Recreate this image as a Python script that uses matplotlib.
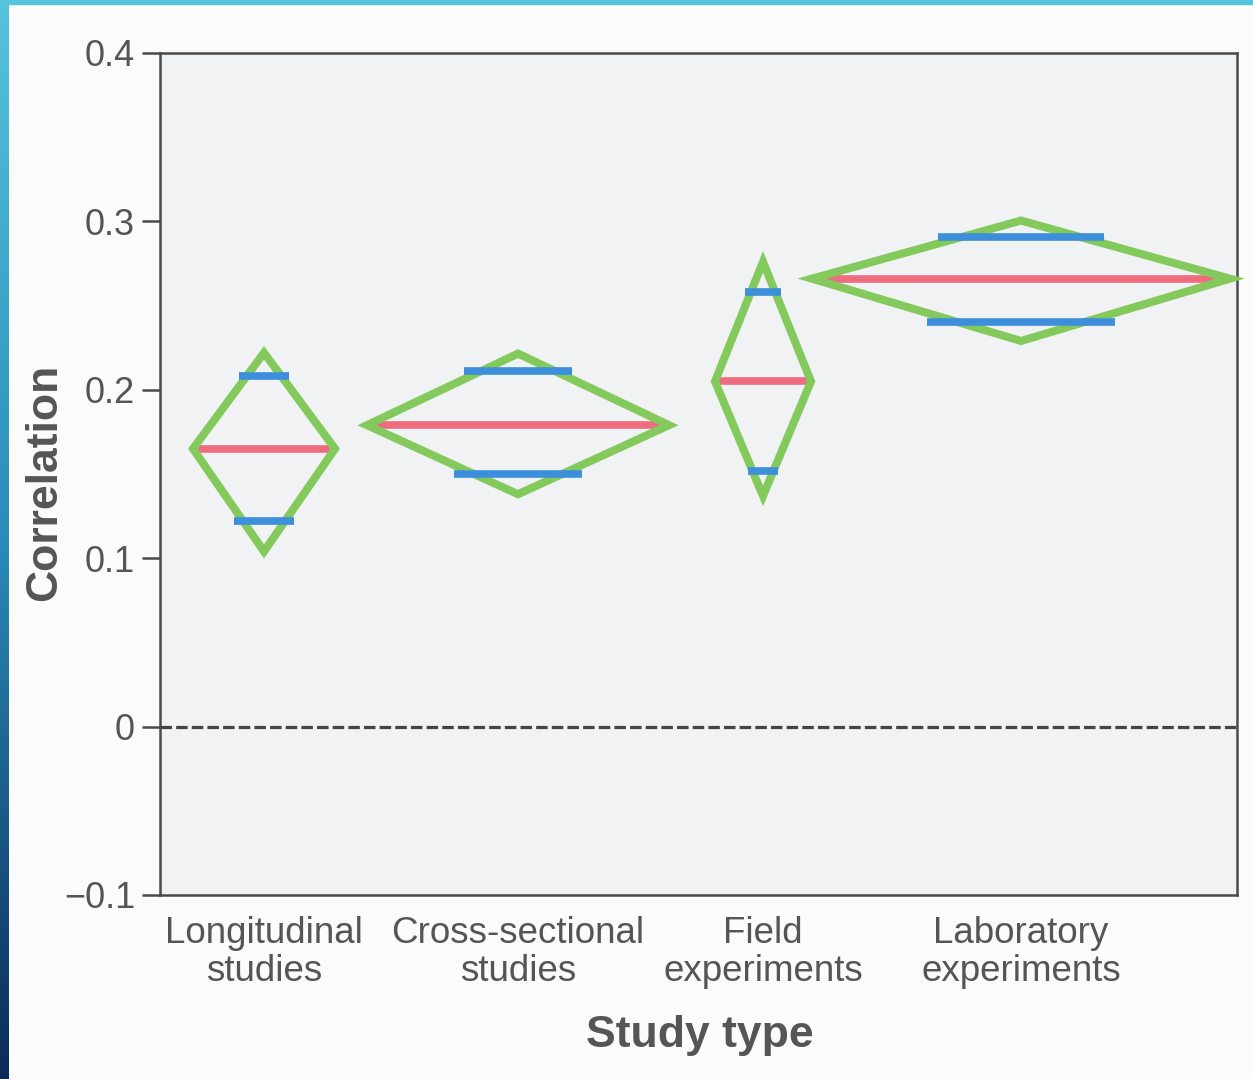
import numpy as np
import matplotlib.pyplot as plt
from matplotlib.patches import Polygon, Rectangle
from matplotlib.colors import LinearSegmentedColormap

# study types (x tick labels)
categories = ['Longitudinal\nstudies', 'Cross-sectional\nstudies',
              'Field\nexperiments', 'Laboratory\nexperiments']
x_pos = [1.04, 3.58, 6.03, 8.61]
half_widths = [0.71, 1.51, 0.48, 2.09]

# correlation: mean, diamond top/bottom, inner blue marks
means = [0.165, 0.179, 0.205, 0.266]
upper = [0.222, 0.2215, 0.276, 0.3005]
lower = [0.104, 0.138, 0.137, 0.229]
blue_hi = [0.208, 0.211, 0.258, 0.291]
blue_lo = [0.122, 0.150, 0.152, 0.2405]

yticks = [-0.1, 0, 0.1, 0.2, 0.3, 0.4]
ytick_labels = ['\u22120.1', '0', '0.1', '0.2', '0.3', '0.4']

GREEN = '#84c95c'
RED = '#ef6b7e'
BLUE = '#3d8fdb'
GREY = '#555555'

plt.rcParams['font.family'] = ['Liberation Sans', 'DejaVu Sans']

fig = plt.figure(figsize=(12.53, 10.79), dpi=100, facecolor='#fbfbfb')
ax = fig.add_axes([160 / 1253, 1 - 895 / 1079, 1077 / 1253, 842 / 1079])
ax.set_facecolor('#f1f2f4')

for x, hw, m, u, l, bh, bl in zip(x_pos, half_widths, means, upper, lower, blue_hi, blue_lo):
    ax.plot([x - hw, x + hw], [m, m], color=RED, lw=5.5, solid_capstyle='butt', zorder=2)
    diamond = Polygon([(x - hw, m), (x, u), (x + hw, m), (x, l)], closed=True, fill=False,
                      edgecolor=GREEN, lw=5.8, joinstyle='miter', zorder=3, clip_on=False)
    ax.add_patch(diamond)
    # blue marks reach a bit past the diamond edges
    w_hi = 1.45 * hw * (1 - (bh - m) / (u - m))
    w_lo = 1.45 * hw * (1 - (m - bl) / (m - l))
    ax.plot([x - w_hi, x + w_hi], [bh, bh], color=BLUE, lw=5.5, solid_capstyle='butt', zorder=4)
    ax.plot([x - w_lo, x + w_lo], [bl, bl], color=BLUE, lw=5.5, solid_capstyle='butt', zorder=4)

ax.axhline(0, color='#444444', lw=2.3, dashes=(3.6, 1.3), zorder=1)

ax.set_xlim(0, 10.77)
ax.set_ylim(-0.1, 0.4)
ax.set_yticks(yticks)
ax.set_yticklabels(ytick_labels)
ax.set_xticks(x_pos)
ax.set_xticklabels(categories, linespacing=1.1)
ax.tick_params(axis='y', length=13, width=1.8, color='#4a4a4a', pad=5, labelsize=26, labelcolor=GREY)
ax.tick_params(axis='x', length=0, pad=15, labelsize=26.5, labelcolor=GREY)
for s in ax.spines.values():
    s.set_color('#4a4a4a')
    s.set_linewidth(1.8)

ax.set_ylabel('Correlation', fontsize=32, fontweight='bold', color=GREY)
ax.yaxis.set_label_coords(-0.107, 0.49)
ax.yaxis.label.set_va('center')
ax.set_xlabel('Study type', fontsize=32, fontweight='bold', color=GREY)
ax.xaxis.set_label_coords(0.501, -0.142)
ax.xaxis.label.set_va('top')

# slide frame: cyan strip on top, blue gradient strip on the left
fig.patches.append(Rectangle((0, 1 - 4 / 1079), 1, 4 / 1079, transform=fig.transFigure,
                             color='#55c4dc', zorder=10))
bar = fig.add_axes([0, 0, 9 / 1253, 1])
cmap = LinearSegmentedColormap.from_list('frame', ['#55c4dc', '#2a8cb8', '#0c2b57'])
bar.imshow(np.linspace(0, 1, 256).reshape(-1, 1), aspect='auto', cmap=cmap)
bar.axis('off')

fig.savefig('out.png', dpi=100, facecolor=fig.get_facecolor())
